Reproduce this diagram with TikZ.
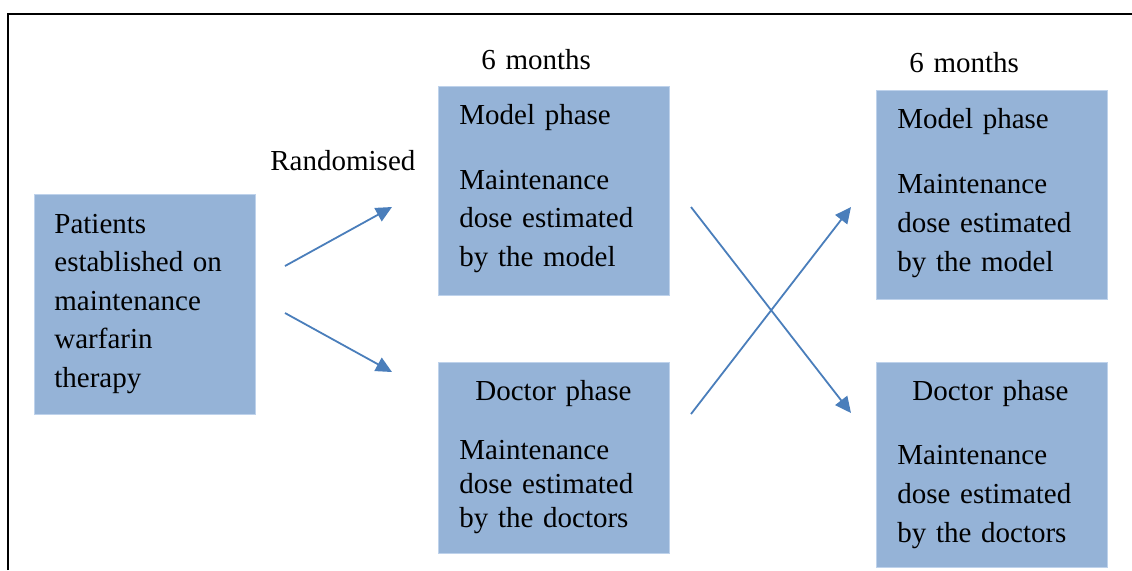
\documentclass[tikz,border=0pt]{standalone}
\usepackage{fontspec}
\setmainfont{Liberation Serif}
\usepackage{tikz}
\usetikzlibrary{arrows.meta,positioning}
\definecolor{boxblue}{RGB}{149,179,215}
\definecolor{boxedge}{RGB}{190,210,235}
\definecolor{arrowblue}{RGB}{74,126,187}

\begin{document}
\begin{tikzpicture}[x=0.5pt,y=-0.5pt,
  box/.style={rectangle,fill=boxblue,draw=boxedge,line width=0.3pt,anchor=north west,inner sep=0pt,minimum width=115.5pt},
  txt/.style={anchor=base west,inner sep=0pt,align=left,text width=105pt,font=\fontsize{14.5pt}{19.3pt}\selectfont},
  arr/.style={draw=arrowblue,line width=0.9pt,-{Triangle[length=8pt,width=7.5pt]}}]
\useasboundingbox (0,0) rectangle (1132,570);
\draw[line width=1.2pt] (8,570) -- (8,14) -- (1132,14);

% boxes
\node (pat) at (34,194)[box,minimum width=110.5pt,minimum height=110pt] {};
\node (mod1) at (438,86)[box,minimum height=104.5pt] {};
\node (doc1) at (438,362)[box,minimum height=95.5pt] {};
\node (mod2) at (876,90)[box,minimum height=104.5pt] {};
\node (doc2) at (876,362)[box,minimum height=102.5pt] {};

% texts
\node (pattxt) at (54,233)[txt] {Patients\\established on\\maintenance\\warfarin\\therapy};
\node (rand) at (270,170)[txt] {Randomised};
\node (mon1) at (481,69)[txt] {6 months};
\node (mon2) at (909,72)[txt] {6 months};
\node (mod1txt) at (459,124)[txt,font=\fontsize{14.5pt}{19.25pt}\selectfont] {Model phase\\[13.25pt]Maintenance\\dose estimated\\by the model};
\node (doc1txt) at (459,400)[txt,font=\fontsize{14.5pt}{17pt}\selectfont] {\hspace*{8pt}Doctor phase\\[12.5pt]Maintenance\\dose estimated\\by the doctors};
\node (mod2txt) at (897,128)[txt,font=\fontsize{14.5pt}{19.5pt}\selectfont] {Model phase\\[13pt]Maintenance\\dose estimated\\by the model};
\node (doc2txt) at (897,400)[txt,font=\fontsize{14.5pt}{19.5pt}\selectfont] {\hspace*{7.5pt}Doctor phase\\[12.5pt]Maintenance\\dose estimated\\by the doctors};

% arrows
\coordinate (a1s) at (285,266);
\coordinate (a1e) at (392,207);
\coordinate (a2s) at (285,313);
\coordinate (a2e) at (392,372);
\coordinate (c1s) at (691,207);
\coordinate (c1e) at (851,413);
\coordinate (c2s) at (691,414);
\coordinate (c2e) at (851,207);

\draw[arr] (a1s) -- (a1e);
\draw[arr] (a2s) -- (a2e);
\draw[arr] (c1s) -- (c1e);
\draw[arr] (c2s) -- (c2e);

\end{tikzpicture}
\end{document}
